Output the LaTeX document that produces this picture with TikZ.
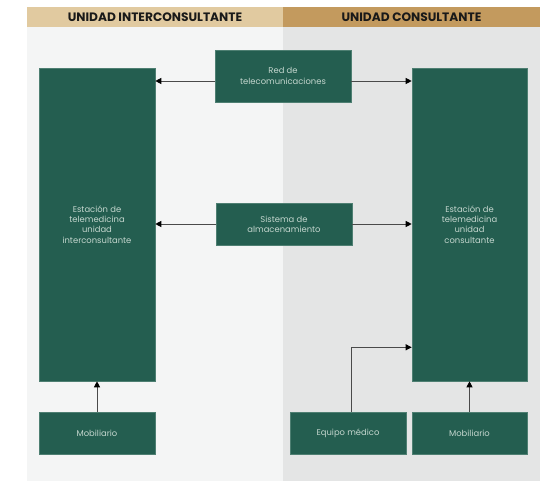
\documentclass[tikz,border=0pt]{standalone}
\usepackage{fontspec}
\setmainfont{Poppins}
\usetikzlibrary{arrows.meta}
\definecolor{boxgreen}{HTML}{245E50}
\definecolor{boxedge}{HTML}{4E7F72}
\definecolor{boxtext}{HTML}{C4D6CE}
\definecolor{hdrL}{HTML}{E1CAA0}
\definecolor{hdrR}{HTML}{C39A5E}
\definecolor{bgL}{HTML}{F4F5F5}
\definecolor{bgR}{HTML}{E4E5E5}
\definecolor{linec}{HTML}{4A4A4A}
\tikzset{
  gbox/.style={rectangle, fill=boxgreen, draw=boxedge, line width=0.6pt, text=boxtext,
    font=\fontsize{8.4}{10.2}\selectfont, align=center, inner sep=0pt},
  hdr/.style={font=\fontsize{12.2}{14}\selectfont\bfseries, text=black!90},
  conn/.style={draw=linec, line width=0.9pt, -{Triangle[length=6pt,width=6pt,color=black]}}
}
\begin{document}
\begin{tikzpicture}[x=1pt,y=-1pt]
\useasboundingbox (0,0) rectangle (547,481);
% backgrounds
\fill[bgL] (27,27) rectangle (283,481);
\fill[bgR] (283,27) rectangle (540,481);
\fill[hdrL] (27,7) rectangle (283,27);
\fill[hdrR] (283,7) rectangle (540,27);
\node[hdr] (hl) at (155,17.5) {UNIDAD INTERCONSULTANTE};
\node[hdr] (hr) at (411.5,17.5) {UNIDAD CONSULTANTE};
% boxes
\node[gbox, minimum width=116pt, minimum height=313pt] (lst) at (97,224.5)
  {Estación de\\telemedicina\\unidad\\interconsultante};
\node[gbox, minimum width=115pt, minimum height=313pt] (rst) at (469.5,224.5)
  {Estación de\\telemedicina\\unidad\\consultante};
\node[gbox, minimum width=136pt, minimum height=52pt] (red) at (283,76)
  {Red de\\telecomunicaciones};
\node[gbox, minimum width=136pt, minimum height=42pt] (sis) at (284,224)
  {Sistema de\\almacenamiento};
\node[gbox, minimum width=116pt, minimum height=42pt] (mobl) at (97,433) {Mobiliario};
\node[gbox, minimum width=116pt, minimum height=42pt] (equ) at (348,433) {Equipo médico};
\node[gbox, minimum width=115pt, minimum height=42pt] (mobr) at (469.5,433) {Mobiliario};
% connectors
\draw[conn] ([yshift=-5pt]red.west) -- ([yshift=-5pt]red.west -| lst.east);
\draw[conn] ([yshift=-5pt]red.east) -- ([yshift=-5pt]red.east -| rst.west);
\draw[conn] (sis.west) -- (sis.west -| lst.east);
\draw[conn] (sis.east) -- (sis.east -| rst.west);
\draw[conn] (mobl.north) -- (lst.south);
\draw[conn] (mobr.north) -- (rst.south);
\coordinate (eqin) at ([yshift=34pt]rst.south west);
\draw[conn] ([xshift=3pt]equ.north) |- (eqin);
\end{tikzpicture}
\end{document}
